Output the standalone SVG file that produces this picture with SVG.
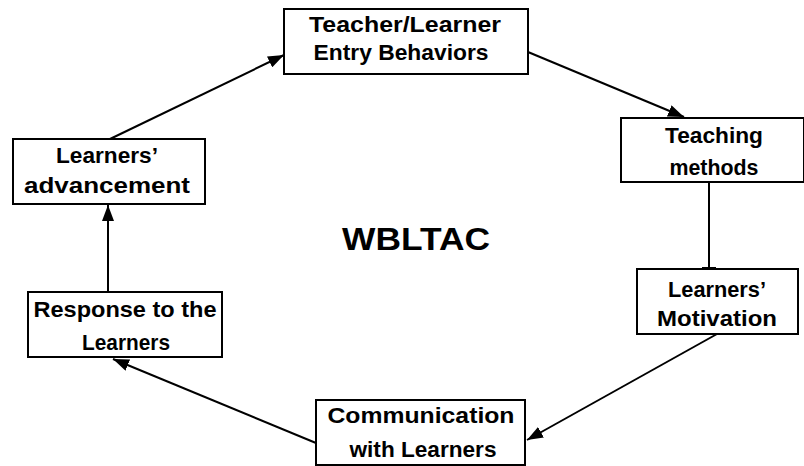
<svg xmlns="http://www.w3.org/2000/svg" width="804" height="466" viewBox="0 0 804 466">
<style>
.box{fill:#fff;stroke:#000;stroke-width:2}
.lbl{font-family:"Liberation Sans",Arial,sans-serif;font-weight:bold;font-size:22px;fill:#000;text-anchor:middle}
.title{font-family:"Liberation Sans",Arial,sans-serif;font-weight:bold;font-size:32px;fill:#000;text-anchor:middle}
.con{stroke:#000;stroke-width:2;fill:none}
</style>
<defs>
<marker id="ah" viewBox="0 0 16 12" refX="16" refY="6" markerWidth="16" markerHeight="12" markerUnits="userSpaceOnUse" orient="auto">
<path d="M0,0 L16,6 L0,12 Z" fill="#000"/>
</marker>
</defs>
<g id="connectors">
<line class="con" x1="528" y1="52" x2="684" y2="117" marker-end="url(#ah)"/>
<line class="con" x1="709" y1="182" x2="709" y2="268"/>
<line class="con" x1="702" y1="268" x2="716" y2="268"/>
<line class="con" x1="717" y1="334" x2="527" y2="440" marker-end="url(#ah)"/>
<line class="con" x1="316" y1="443" x2="113" y2="359" marker-end="url(#ah)"/>
<line class="con" x1="108" y1="292" x2="108" y2="205" marker-end="url(#ah)"/>
<line class="con" x1="110" y1="139" x2="284" y2="55" marker-end="url(#ah)"/>
</g>
<g id="entry">
<rect class="box" x="284" y="9" width="244" height="65"/>
<text class="lbl" x="405" y="32" textLength="192" lengthAdjust="spacingAndGlyphs">Teacher/Learner</text>
<text class="lbl" x="401" y="60" textLength="175" lengthAdjust="spacingAndGlyphs">Entry Behaviors</text>
</g>
<g id="teaching">
<rect class="box" x="621" y="118" width="183" height="64"/>
<text class="lbl" x="714" y="143" textLength="98" lengthAdjust="spacingAndGlyphs">Teaching</text>
<text class="lbl" x="714" y="175" textLength="89" lengthAdjust="spacingAndGlyphs">methods</text>
</g>
<g id="motivation">
<rect class="box" x="637" y="269" width="161" height="65"/>
<text class="lbl" x="717" y="297" textLength="98" lengthAdjust="spacingAndGlyphs">Learners’</text>
<text class="lbl" x="717" y="326" textLength="120" lengthAdjust="spacingAndGlyphs">Motivation</text>
</g>
<g id="communication">
<rect class="box" x="316" y="400" width="209" height="65"/>
<text class="lbl" x="421" y="423" textLength="187" lengthAdjust="spacingAndGlyphs">Communication</text>
<text class="lbl" x="423" y="457" textLength="147" lengthAdjust="spacingAndGlyphs">with Learners</text>
</g>
<g id="response">
<rect class="box" x="28" y="292" width="194" height="65"/>
<text class="lbl" x="125" y="317" textLength="183" lengthAdjust="spacingAndGlyphs">Response to the</text>
<text class="lbl" x="126" y="350" textLength="88" lengthAdjust="spacingAndGlyphs">Learners</text>
</g>
<g id="advancement">
<rect class="box" x="13" y="139" width="192" height="65"/>
<text class="lbl" x="107" y="163" textLength="102" lengthAdjust="spacingAndGlyphs">Learners’</text>
<text class="lbl" x="107" y="193" textLength="166" lengthAdjust="spacingAndGlyphs">advancement</text>
</g>
<g id="title">
<text class="title" x="416" y="250" textLength="148" lengthAdjust="spacingAndGlyphs">WBLTAC</text>
</g>
</svg>
